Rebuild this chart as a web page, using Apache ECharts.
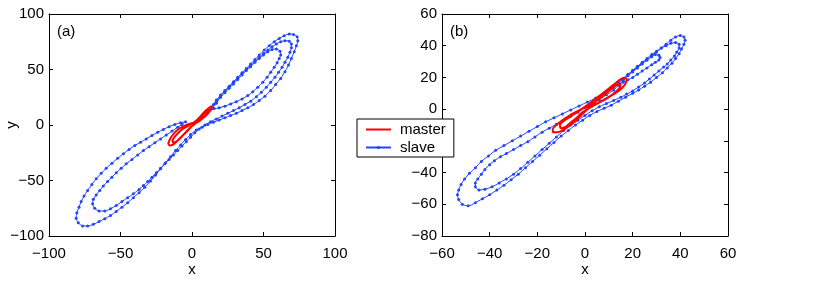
<!DOCTYPE html>
<html>
<head>
<meta charset="utf-8">
<script src="https://cdn.jsdelivr.net/npm/echarts@6/dist/echarts.min.js"></script>
<style>html,body{margin:0;padding:0;background:#fff;}#c{width:817px;height:282px;}</style>
</head>
<body>
<div id="c"></div>
<script>
// Tick values
const xTicksA = [-100, -50, 0, 50, 100];
const yTicksA = [-100, -50, 0, 50, 100];
const xTicksB = [-60, -40, -20, 0, 20, 40, 60];
const yTicksB = [-80, -60, -40, -20, 0, 20, 40, 60];
const seriesNames = ['master', 'slave'];
const panelLabels = ['(a)', '(b)'];

// Panel (a) trajectories [x, y]
const masterA = [
[1,2],[-2,1],[-5,-0.5],[-8,-2.5],[-11,-5.5],[-13.5,-9],[-15.5,-13],[-16.5,-16.5],[-15.5,-18.5],[-13,-17.5],[-10,-14],[-7,-10],[-4,-6],[-1,-2],[2,1],[5,3.5],[8,6.5],[10.5,9.5],[12.5,12.5],[14,15.5],[13.5,17],[11.5,15],[9,12],[6.5,8.5],[4,5],[1,2],
[-3,-1],[-6.5,-3.5],[-9.5,-7],[-12,-10.5],[-13.5,-14],[-13,-16],[-10.5,-14.5],[-7.5,-11],[-4.5,-7],[-1.5,-3],[1.5,1],[4.5,4.5],[7.5,8],[10,11.5],[12,14],[11,14.5],[8.5,11.5],[6,8],[3.5,4.5],[1,2]
];
const slaveA = [
[14,15],[17,19.5],[20,25],[23,29],[26,33],[29,37],[32,41],[35,45],[38,49],[41,52.5],[44,56.5],[47,60],[50,63],[53,66],[56,68],[59,68.5],[61.5,66.5],[62,63],[61,60],[59.5,56],[57.5,52],[55,47.5],[52.5,43],[49.5,38.5],[46,34],[42.5,30],[39,26.5],[35,23.5],[31,21],[27,19],[23,17],[19,15.5],[15.5,14.8],
[14,15],[17,20.5],[20,26.5],[23,30.5],[26,34.5],[29,38.5],[32,42.5],[35,46.5],[38,50],[41,53.5],[44,57],[47,61],[50,64.5],[53,67.5],[56,70.5],[59,73],[62,75],[65,76],[68,75.5],[69.5,73],[69.5,69.5],[68.5,65.5],[67,61],[65,56.5],[63,52],[60.5,47.5],[58,43],[55,38.5],[52,34],[48.5,29.5],[45,25.5],[41,21.5],[37,18.5],[33,15.5],[29,13],[25,10.5],[21,8],[17,5.5],[13,3],[9,0],[5,-3.5],[2,-7],[-1,-11],[-4,-15],[-7,-19],[-10,-23],[-13,-27],[-16,-31],[-19,-35],[-22,-39],[-25,-43],[-28,-47],[-31,-51],[-34,-54.5],[-37,-58],[-41,-62],[-45,-65.5],[-49,-69],[-53,-72.5],[-57,-75.5],[-61,-77.5],[-65,-77.5],[-68,-75],[-69.5,-71],[-69,-67],[-67,-63],[-64.5,-59],[-62,-55],[-59,-51],[-56,-47],[-53,-43],[-49.5,-39],[-46,-35],[-42,-31],[-38,-27],[-34,-23],[-30,-19.5],[-26,-16],[-22,-12.5],[-18,-9],[-14,-5.5],[-10,-2],[-7,0.5],[-4.5,3],
[-8,2],[-12,0.5],[-16,-1.5],[-20,-4],[-24,-6.5],[-28,-9.5],[-32,-12.5],[-36,-15.5],[-40,-18.5],[-44,-22],[-48,-26],[-52,-30],[-56,-34.5],[-60,-39],[-63.5,-43.5],[-67,-48.5],[-70,-53.5],[-73,-59],[-75.5,-64],[-77.5,-69],[-79,-74],[-80.5,-79],[-81,-84],[-79.5,-88],[-76.5,-91],[-73,-91],[-69,-89.5],[-65,-87],[-61,-84.5],[-57,-81.5],[-53,-78],[-49,-74],[-45,-70],[-41,-65.5],[-37,-61],[-33,-56],[-29,-50.5],[-25.5,-45],[-22,-39.5],[-18.5,-34],[-15,-28.5],[-11.5,-23],[-8,-18],[-4.5,-13],[-1,-8.5],[3,-4.5],[7,-2],[11,0.5],[15,2.5],[19,4.5],[23,6.5],[27,8.5],[31,10.5],[35,13],[39,15.5],[43,18.5],[47,22],[51,26],[55,31],[58.5,36.5],[62,42],[65,48],[67.5,54],[69.5,60],[71.5,66],[73,71.5],[74,76],[73.5,79.5],[71,81.5],[68,82],[64.5,80.5],[61,78],[57.5,75],[54,71.5],[50.5,67.5],[47,63],[44,59],[41,55],[38,51],[35,47],[32,43],[29,39],[26,35],[23,31],[20,27],[17,22.5],[15,18.5],[14,15]
];

// Panel (b) trajectories [x, y]
const masterB = [
[-1,0.5],[-3.5,-1.5],[-6.5,-4],[-9.5,-7],[-12,-10],[-13.5,-12.5],[-13.5,-14.5],[-11.5,-14.5],[-9,-13],[-6.5,-10.5],[-4,-7.5],[-2,-4.5],[0,-1.5],[2.5,1.5],[5.5,4],[8.5,6.5],[11.5,9],[14.5,12],[16.5,15],[17.5,18],[17,19.5],[15,19],[12.5,16],[10,13],[7,9.5],[4,6],[1,2.5],[-1,0.5],
[-3.5,-2],[-6.5,-5],[-9,-7.5],[-10.5,-10],[-10,-12],[-8,-11],[-6,-8.5],[-3.5,-5.5],[-1.5,-2.5],[1,0],[4,2.5],[7,5],[10,7.5],[12.5,10.5],[14.5,13.5],[15,16],[13,15],[10.5,12],[8,9],[5,5.5],[2,2],[-1,0.5]
];
const slaveB = [
[12,14],[14,16.5],[16,19],[18,21.5],[20,24],[22,26.5],[24,29],[26,31],[28,33],[29.5,34.5],[31,34],[31.5,32.5],[31,31],[29.5,29.5],[28,28],[26,26],[24,24],[22,22],[20,20],[18,18.5],[16,17],[14,15.5],[12,14],
[14,17],[16,19.5],[18,22],[20,24.5],[22,27],[24,29.5],[26,32],[28,34.5],[30,36.5],[32,38.5],[34,40],[36,41.5],[38,42],[39.5,41],[39.5,38.5],[38.5,36],[37.5,33.5],[36,31],[34.5,28.5],[33,26.5],[31,24],[29,21.5],[27,19],[25,16.5],[22.5,14],[20,11.5],[17.5,9.5],[15,7.5],[12,5.5],[9,3.5],[6,1.5],[3,-1],[0,-4],[-3,-7],[-6,-10],[-9,-13.5],[-12,-17.5],[-15,-21.5],[-18,-25.5],[-21,-29.5],[-24,-33.5],[-27,-37.5],[-30,-41],[-33,-44],[-36,-46.5],[-39,-49],[-42,-50.5],[-44.5,-51],[-46,-49],[-46,-46.5],[-45,-44],[-43.5,-41],[-42,-38],[-40,-35],[-38,-32.5],[-35.5,-30],[-33,-28],[-30,-25.5],[-27,-23],[-24,-20.5],[-21,-17.5],[-18,-14.5],[-15,-12],[-12,-9.5],[-9,-7],[-6,-4.5],[-3,-2],[0,1],[3,3.5],[6,6],[9,9],[12,12],[14,15],
[16,18],[18,21],[20,23.5],[22,26],[24,28.5],[26,31],[28,33.5],[30,36],[32,38.5],[34,41],[36,43.5],[38,45.5],[40,46.5],[41.5,45.5],[42,43.5],[41.5,41],[40.5,38],[39.5,35],[38,32],[36.5,29],[34.5,26],[32.5,23],[30,20],[27.5,17],[25,14.5],[22.5,12],[20,10],[17,7.5],[14,5],[11,2.5],[8,0.5],[5,-1.5],[2,-4],[-1,-7],[-4,-10],[-7,-13.5],[-10,-17],[-13,-21],[-16,-25],[-19,-29],[-22,-33],[-25,-37],[-28,-41],[-31,-44.5],[-34,-48],[-37,-51],[-40,-54],[-43,-56.5],[-46,-59],[-49,-61],[-51.5,-60],[-53,-57],[-53.5,-54],[-53,-51],[-52,-47.5],[-50.5,-44],[-48.5,-40.5],[-46,-37],[-43.5,-33],[-40.5,-29.5],[-37.5,-26],[-34,-23],[-30.5,-20],[-27,-17],[-23.5,-14],[-20,-11],[-16.5,-8],[-13,-5.5],[-9.5,-3],[-6,-0.5],[-2.5,2],[1,4.5],[4.5,7],[8,10],[12,14]
];

const FONT = 'Liberation Sans, Arial, Helvetica, sans-serif';
const FS = 15;
const RED = '#ff0000';
const BLUE = '#2244ff';
const minus = v => String(v).replace('-', '\u2212');

function xAx(ticks, grid, pos, withLabel, name) {
  return {
    type: 'value', gridIndex: grid, position: pos,
    min: ticks[0], max: ticks[ticks.length - 1], interval: ticks[1] - ticks[0],
    axisLine: { show: true, onZero: false, lineStyle: { color: '#000', width: 1 } },
    axisTick: { show: true, inside: true, length: 4, lineStyle: { color: '#000' } },
    axisLabel: { show: withLabel, color: '#000', fontSize: FS, fontFamily: FONT, margin: 10, formatter: minus },
    splitLine: { show: false },
    name: name || '', nameLocation: 'middle', nameGap: 26, nameMoveOverlap: false,
    nameTextStyle: { color: '#000', fontSize: FS, fontFamily: FONT }
  };
}
function yAx(ticks, grid, pos, withLabel, name) {
  return {
    type: 'value', gridIndex: grid, position: pos,
    min: ticks[0], max: ticks[ticks.length - 1], interval: ticks[1] - ticks[0],
    axisLine: { show: true, onZero: false, lineStyle: { color: '#000', width: 1 } },
    axisTick: { show: true, inside: true, length: 4, lineStyle: { color: '#000' } },
    axisLabel: { show: withLabel, color: '#000', fontSize: FS, fontFamily: FONT, margin: 5, formatter: minus },
    splitLine: { show: false },
    name: name || '', nameLocation: 'middle', nameGap: 30, nameRotate: 90, nameMoveOverlap: false,
    nameTextStyle: { color: '#000', fontSize: FS, fontFamily: FONT }
  };
}

const chart = echarts.init(document.getElementById('c'), null, { renderer: 'canvas' });
chart.setOption({
  animation: false,
  backgroundColor: '#fff',
  title: [
    { text: panelLabels[0], left: 57, top: 24, padding: 0, textStyle: { fontSize: FS, fontWeight: 'normal', color: '#000', fontFamily: FONT } },
    { text: panelLabels[1], left: 450, top: 24, padding: 0, textStyle: { fontSize: FS, fontWeight: 'normal', color: '#000', fontFamily: FONT } }
  ],
  grid: [
    { left: 49, top: 14, width: 286, height: 226, containLabel: false },
    { left: 442, top: 14, width: 286, height: 226, containLabel: false }
  ],
  xAxis: [
    xAx(xTicksA, 0, 'bottom', true, 'x'),
    xAx(xTicksA, 0, 'top', false),
    xAx(xTicksB, 1, 'bottom', true, 'x'),
    xAx(xTicksB, 1, 'top', false)
  ],
  yAxis: [
    yAx(yTicksA, 0, 'left', true, 'y'),
    yAx(yTicksA, 0, 'right', false),
    yAx(yTicksB, 1, 'left', true),
    yAx(yTicksB, 1, 'right', false)
  ],
  legend: {
    data: [
      { name: seriesNames[0], icon: 'path://M0,0H25V2H0Z' },
      { name: seriesNames[1] }
    ],
    orient: 'vertical', left: 357, top: 119,
    backgroundColor: '#fff', borderColor: '#000', borderWidth: 1, borderRadius: 0,
    padding: [2, 8, 1, 8], itemWidth: 25, itemHeight: 4, itemGap: 1,
    textStyle: { fontSize: FS, color: '#000', fontFamily: FONT, lineHeight: 17, padding: [0, 0, 0, 4] },
    z: 10
  },
  series: [
    { name: seriesNames[1], type: 'line', xAxisIndex: 0, yAxisIndex: 0, data: slaveA, smooth: 0.3,
      symbol: 'circle', symbolSize: 3, showSymbol: true, lineStyle: { color: BLUE, width: 1 }, itemStyle: { color: BLUE }, emphasis: { disabled: true }, z: 2 },
    { name: seriesNames[0], type: 'line', xAxisIndex: 0, yAxisIndex: 0, data: masterA, smooth: 0.3,
      symbol: 'none', lineStyle: { color: RED, width: 2 }, itemStyle: { color: RED }, emphasis: { disabled: true }, z: 3 },
    { name: seriesNames[1], type: 'line', xAxisIndex: 2, yAxisIndex: 2, data: slaveB, smooth: 0.3,
      symbol: 'circle', symbolSize: 3, showSymbol: true, lineStyle: { color: BLUE, width: 1 }, itemStyle: { color: BLUE }, emphasis: { disabled: true }, z: 2 },
    { name: seriesNames[0], type: 'line', xAxisIndex: 2, yAxisIndex: 2, data: masterB, smooth: 0.3,
      symbol: 'none', lineStyle: { color: RED, width: 2 }, itemStyle: { color: RED }, emphasis: { disabled: true }, z: 3 }
  ]
});
</script>
</body>
</html>
